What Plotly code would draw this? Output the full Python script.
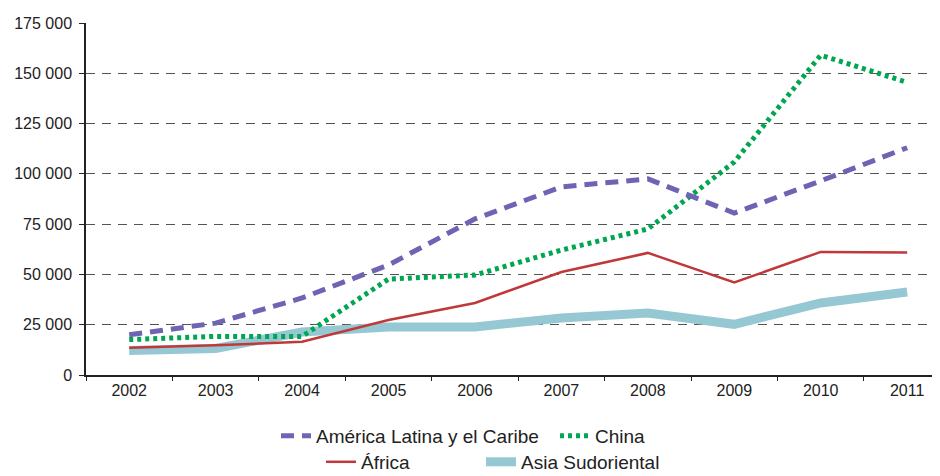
import plotly.graph_objects as go

years = ["2002", "2003", "2004", "2005", "2006", "2007", "2008", "2009", "2010", "2011"]
america_latina = [20000, 25800, 38300, 54700, 77600, 93500, 97500, 80500, 96500, 113000]
china = [17600, 19200, 19200, 47700, 49700, 62100, 72600, 105900, 159000, 145500]
africa = [13500, 14800, 16500, 27300, 35800, 51200, 60700, 46000, 61200, 60900]
asia_sudoriental = [12200, 13200, 21400, 23900, 23900, 28300, 30800, 25200, 35800, 41300]

ytick_vals = [0, 25000, 50000, 75000, 100000, 125000, 150000, 175000]
ytick_text = ["0", "25 000", "50 000", "75 000", "100 000", "125 000", "150 000", "175 000"]

# page offset of 8px (default body margin)
OFF = 8
PLOT_L, PLOT_R = 86, 940
PW = PLOT_R - PLOT_L


def lx(px):
    return (px - PLOT_L) / PW


fig = go.Figure()

fig.add_trace(go.Scatter(x=years, y=asia_sudoriental, name="Asia Sudoriental", mode="lines",
                         line=dict(color="#96C8D4", width=9), legend="legend4"))
fig.add_trace(go.Scatter(x=years, y=africa, name="África", mode="lines",
                         line=dict(color="#C0393A", width=2.5), legend="legend3"))
fig.add_trace(go.Scatter(x=years, y=china, name="China", mode="lines",
                         line=dict(color="#00A650", width=5, dash="4px,4px"), legend="legend2"))
fig.add_trace(go.Scatter(x=years, y=america_latina, name="América Latina y el Caribe", mode="lines",
                         line=dict(color="#6E64B4", width=5, dash="13px,8px"), legend="legend"))

leg_common = dict(orientation="h", xanchor="left", yanchor="middle",
                  font=dict(size=19), bgcolor="rgba(0,0,0,0)")

fig.update_layout(
    width=940 - OFF, height=476 - OFF,
    margin=dict(l=PLOT_L - OFF, r=0, t=23 - OFF, b=101, autoexpand=False),
    paper_bgcolor="white", plot_bgcolor="white",
    font=dict(family="Liberation Sans, Arial, sans-serif", color="#222222"),
    showlegend=True,
    legend=dict(x=lx(318 - 42), y=-0.173, **leg_common),
    legend2=dict(x=lx(597 - 42), y=-0.173, **leg_common),
    legend3=dict(x=lx(363 - 42), y=-0.247, **leg_common),
    legend4=dict(x=lx(523 - 42), y=-0.247, **leg_common),
    xaxis=dict(type="category", range=[-0.5, 9.38], showgrid=False, automargin=False,
               showline=True, linecolor="#222222", linewidth=1.5,
               ticks="outside", ticklen=4, tickcolor="#222222", tickson="boundaries",
               tickfont=dict(size=16), zeroline=False),
    yaxis=dict(range=[0, 175000], tickvals=ytick_vals, ticktext=ytick_text, automargin=False,
               showline=True, linecolor="#222222", linewidth=1.5,
               ticks="outside", ticklen=5, tickcolor="#222222",
               showgrid=True, gridcolor="#555555", gridwidth=1, griddash="9px,7px",
               tickfont=dict(size=16), zeroline=False, ticklabelstandoff=4),
)

fig.write_html("out.html")
